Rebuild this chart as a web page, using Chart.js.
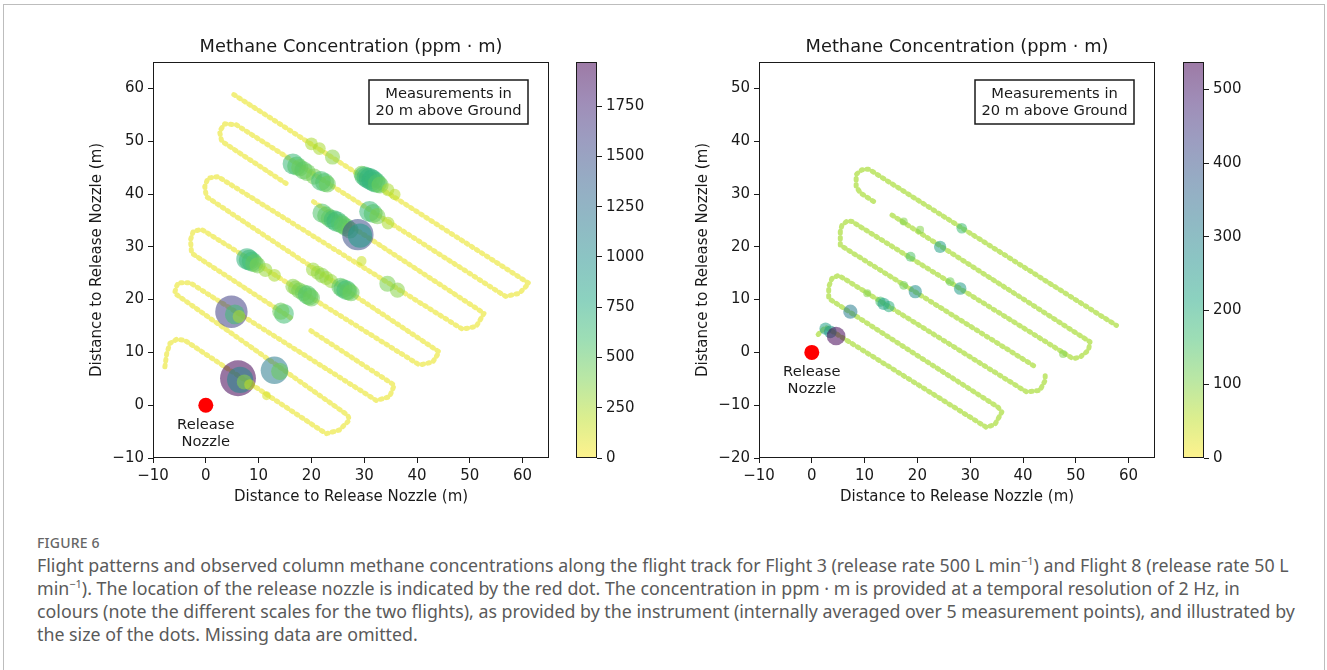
<!DOCTYPE html>
<html>
<head>
<meta charset="utf-8">
<script src="https://cdn.jsdelivr.net/npm/chart.js@4.4.0/dist/chart.umd.min.js"></script>
<style>
  body { margin: 0; width: 1327px; height: 670px; background: #fff; position: relative; overflow: hidden; }
  .frame { position: absolute; left: 3px; top: 4px; width: 1320px; height: 720px; border: 1px solid #bdbdbd; }
  canvas { position: absolute; }
  .figno { position: absolute; left: 37px; top: 533px; font: 500 14px "Noto Sans", sans-serif; color: #666; letter-spacing: 0.2px; }
  .caption { position: absolute; left: 37px; top: 554px; font: 17.8px "Noto Sans", sans-serif; line-height: 23px; color: #5a5a5a; white-space: nowrap; }
  .caption sup { font-size: 11px; line-height: 0; }
</style>
</head>
<body>
<div class="frame"></div>
<canvas id="mapLeft" width="500" height="500" style="left:60px;top:20px"></canvas>
<canvas id="barLeft" width="80" height="420" style="left:574px;top:50px"></canvas>
<canvas id="mapRight" width="500" height="500" style="left:666px;top:20px"></canvas>
<canvas id="barRight" width="80" height="420" style="left:1181px;top:50px"></canvas>
<div class="figno">FIGURE 6</div>
<div class="caption">
Flight patterns and observed column methane concentrations along the flight track for Flight 3 (release rate 500 L min<sup>−1</sup>) and Flight 8 (release rate 50 L<br>
min<sup>−1</sup>). The location of the release nozzle is indicated by the red dot. The concentration in ppm · m is provided at a temporal resolution of 2 Hz, in<br>
colours (note the different scales for the two flights), as provided by the instrument (internally averaged over 5 measurement points), and illustrated by<br>
the size of the dots. Missing data are omitted.
</div>
<script>
// ---- Flight 3 (left) ----
// flight track (null = gap in the data)
const track3X = [-7.75, -7.4, -6.8, -5.5, -4.0, 22.8, 25.3, 27.2, 26.9, -5.9, -5.6, -5.2, -3.0, 32.3, 34.8, 35.7, 19.3, null, 16.0, -2.7, -2.9, -2.4, -0.8, 40.5, 43.0, 44.2, 0.1, -0.2, 0.4, 2.3, 48.6, 51.2, 52.7, 20.0, null, 15.2, 3.0, 2.6, 3.6, 5.8, 56.8, 59.4, 61.2, 4.9];
const track3Y = [7.27, 9.8, 11.7, 12.5, 12.3, -5.4, -4.7, -2.8, -1.9, 21.2, 22.4, 23.2, 23.2, 0.9, 1.6, 3.8, 14.5, null, 16.6, 28.8, 31.3, 32.9, 33.3, 7.6, 8.2, 10.1, 39.5, 41.4, 43.0, 43.3, 14.4, 14.9, 17.4, 38.8, null, 42.0, 50.0, 51.9, 53.3, 53.1, 20.6, 21.2, 23.1, 59.1];
// elevated concentrations along the track (ppm·m)
const conc3X = [6.1, 6.5, 7.3, 8.3, 11.5, 13.0, 14.0, 4.85, 5.5, 6.3, 14.8, 14.2,
    7.8, 8.2, 8.7, 9.2, 9.8, 11.3, 13.0, 16.5, 17.0, 17.7, 18.5, 19.2, 19.6, 20.0,
    20.3, 21.2, 22.0, 22.8, 23.7, 25.5, 26.0, 26.6, 27.0, 27.5, 34.4, 36.3, 29.5,
    22.0, 22.8, 23.5, 24.2, 24.8, 25.5, 26.0, 26.6, 27.3, 28.8, 29.2,
    16.5, 17.2, 17.8, 18.5, 19.2, 20.5, 21.8, 22.5, 23.0, 31.0, 31.7, 32.5, 34.5,
    20.0, 21.5, 24.0, 29.5, 30.0, 30.5, 31.0, 31.5, 32.0, 32.5, 33.0, 34.5, 35.8];
const conc3Y = [5.1, 4.8, 4.4, 3.9, 1.8, 6.6, 6.4, 17.7, 17.2, 16.8, 17.3, 17.8,
    27.7, 27.5, 27.2, 26.9, 26.5, 25.6, 24.6, 22.5, 22.2, 21.7, 21.3, 20.9, 20.6, 20.3,
    25.7, 25.1, 24.6, 24.1, 23.5, 22.4, 22.1, 21.8, 21.6, 21.3, 23.0, 21.8, 27.3,
    36.4, 35.9, 35.4, 35.1, 34.8, 34.4, 34.1, 33.7, 33.2, 32.3, 32.1,
    45.7, 45.3, 45.0, 44.5, 44.1, 43.3, 42.5, 42.2, 41.9, 36.7, 36.3, 35.8, 34.5,
    49.5, 48.6, 47.0, 43.8, 43.4, 43.1, 42.9, 42.6, 42.3, 42.0, 41.7, 40.8, 39.9];
const conc3V = [1960, 1050, 350, 180, 120, 1150, 450, 1600, 600, 250, 600, 450,
    700, 650, 600, 500, 400, 300, 250, 350, 350, 400, 450, 550, 500, 450,
    300, 300, 350, 300, 300, 500, 550, 600, 500, 450, 400, 350, 150,
    550, 500, 500, 600, 650, 550, 500, 500, 450, 1500, 900,
    650, 550, 450, 500, 450, 400, 600, 550, 450, 650, 550, 400, 250,
    250, 250, 350, 400, 600, 650, 700, 700, 650, 550, 450, 250, 200];
const cbar3Max = 1970;
const cbar3Ticks = [0, 250, 500, 750, 1000, 1250, 1500, 1750];

// ---- Flight 8 (right) ----
const track8X = [1.2, 2.6, 33.1, 34.7, 36.0, 35.3, 3.2, 3.2, 3.8, 5.1, 40.7, 43.2, 44.2, 44.2, null, 42.0, 5.4, 5.4, 5.7, 6.7, 7.6, 49.5, 50.8, 52.4, 52.7, 14.6, null, 11.7, 9.2, 8.4, 8.4, 9.5, 10.8, 57.7];
const track8Y = [3.4, 4.8, -14.2, -13.6, -11.3, -10.4, 10.2, 12.4, 14.0, 14.6, -7.5, -7.2, -5.3, -4.4, null, -2.5, 20.3, 22.9, 24.1, 24.9, 24.8, -1.2, -0.9, 0.4, 2.0, 26.4, null, 28.6, 30.2, 31.4, 33.7, 34.6, 34.7, 5.1];
const conc8X = [2.6, 3.5, 4.6, 7.3, 13.0, 13.6, 14.6, 19.6, 18.7, 24.3, 28.1, 28.4, 17.4, 20.5, 47.6, 10.5, 17.4, 26.2];
const conc8Y = [4.5, 3.9, 3.1, 7.7, 9.6, 9.2, 8.7, 11.5, 18.1, 20.0, 12.1, 23.5, 24.8, 23.2, -0.3, 11.2, 12.7, 13.4];
const conc8V = [230, 250, 530, 310, 160, 230, 200, 270, 150, 230, 240, 170, 100, 100, 100, 100, 120, 120];
const cbar8Max = 537;
const cbar8Ticks = [0, 100, 200, 300, 400, 500];

const distTicks = [-10, 0, 10, 20, 30, 40, 50, 60];
const dist8YTicks = [-20, -10, 0, 10, 20, 30, 40, 50];

const TITLE = 'Methane Concentration (ppm · m)';
const AXIS_LABEL = 'Distance to Release Nozzle (m)';
const NOTE = ['Measurements in', '20 m above Ground'];
const NOZZLE = ['Release', 'Nozzle'];
const FONT = 'DejaVu Sans';
const INK = '#1a1a1a';
const TXT = 15;

// viridis, reversed so that low = yellow
const VIRIDIS = ['#440154', '#482576', '#414487', '#35608d', '#2a788e', '#21908c', '#22a884', '#43bf71', '#7ad151', '#bbdf27', '#fde725'];
function hexRgb(h) {
    return [parseInt(h.slice(1, 3), 16), parseInt(h.slice(3, 5), 16), parseInt(h.slice(5, 7), 16)];
}
function viridisR(t, alpha) {
    t = Math.min(1, Math.max(0, t));
    const p = (1 - t) * 10;
    const i = Math.min(9, Math.floor(p));
    const f = p - i;
    const a = hexRgb(VIRIDIS[i]), b = hexRgb(VIRIDIS[i + 1]);
    const c = a.map((v, k) => Math.round(v + (b[k] - v) * f));
    return `rgba(${c[0]},${c[1]},${c[2]},${alpha})`;
}

const fmt = (v) => String(v).replace('-', '\u2212');
const pts = (xs, ys, vs) => xs.map((x, i) => ({ x: x, y: ys[i], v: vs ? vs[i] : 0 }));

// frame, title, note box and nozzle label
const decor = {
    id: 'decor',
    afterDraw(chart) {
        const { ctx, chartArea: a, scales } = chart;
        ctx.save();
        ctx.strokeStyle = INK;
        ctx.lineWidth = 1;
        ctx.strokeRect(Math.round(a.left) + 0.5, Math.round(a.top) + 0.5, Math.round(a.right - a.left) - 1, Math.round(a.bottom - a.top) - 1);

        ctx.fillStyle = INK;
        ctx.textAlign = 'center';
        ctx.textBaseline = 'middle';
        ctx.font = `17.8px "${FONT}"`;
        ctx.fillText(TITLE, (a.left + a.right) / 2, a.top - 15);

        // note box in the upper right
        const bw = 159, bh = 44;
        const bx = a.right - 21 - bw, by = a.top + 18;
        ctx.fillStyle = '#fff';
        ctx.fillRect(bx, by, bw, bh);
        ctx.lineWidth = 1.5;
        ctx.strokeRect(bx, by, bw, bh);
        ctx.fillStyle = INK;
        ctx.font = `${TXT - 0.3}px "${FONT}"`;
        ctx.fillText(NOTE[0], bx + bw / 2, by + 14);
        ctx.fillText(NOTE[1], bx + bw / 2, by + 31);

        // nozzle label under the red dot
        const nx = scales.x.getPixelForValue(0), ny = scales.y.getPixelForValue(0);
        ctx.fillText(NOZZLE[0], nx, ny + 20);
        ctx.fillText(NOZZLE[1], nx, ny + 37);
        ctx.restore();
    }
};

function axisOpts(min, max, ticks, pos, fixed) {
    const horizontal = pos === 'bottom';
    return {
        type: 'linear',
        position: pos,
        min: min,
        max: max,
        afterBuildTicks: (s) => { s.ticks = ticks.map(v => ({ value: v })); },
        afterFit: (s) => {
            if (horizontal) s.height = fixed; else s.width = fixed;
            s.paddingLeft = s.paddingRight = s.paddingTop = s.paddingBottom = 0;
        },
        grid: { drawOnChartArea: false, drawTicks: true, tickLength: 5, color: INK, lineWidth: 1 },
        border: { display: false },
        ticks: {
            color: INK, padding: 4, maxRotation: 0, autoSkip: false,
            font: { family: FONT, size: TXT },
            callback: (v) => fmt(v)
        },
        title: {
            display: true, text: AXIS_LABEL, color: INK,
            font: { family: FONT, size: TXT, lineHeight: 1.2 },
            padding: horizontal ? { top: 0, bottom: 14 } : { top: 28, bottom: 0 }
        }
    };
}

function makeMap(id, cfg) {
    return new Chart(document.getElementById(id), {
        type: 'scatter',
        data: {
            datasets: [
                {   // release nozzle
                    data: [{ x: 0, y: 0 }],
                    pointRadius: 7.5,
                    backgroundColor: '#ff0000',
                    borderWidth: 0
                },
                {   // concentrations, colour and size by value
                    data: pts(cfg.cx, cfg.cy, cfg.cv),
                    pointRadius: (c) => 0.405 * Math.sqrt(c.raw.v),
                    backgroundColor: (c) => viridisR(c.raw.v / cfg.vmax, 0.55),
                    borderWidth: 0
                },
                {   // flight track with low readings, drawn as beads
                    data: pts(cfg.tx, cfg.ty),
                    showLine: true,
                    spanGaps: false,
                    pointRadius: 0,
                    borderColor: viridisR(cfg.trackV / cfg.vmax, cfg.trackAlpha),
                    borderWidth: 5,
                    borderDash: [1.5, 4.5],
                    borderJoinStyle: 'round',
                    borderCapStyle: 'round',
                    tension: 0
                }
            ]
        },
        options: {
            responsive: false,
            animation: false,
            events: [],
            layout: { autoPadding: false, padding: { left: 0, right: 11, top: 42, bottom: 0 } },
            plugins: { legend: { display: false }, tooltip: { enabled: false } },
            scales: {
                x: axisOpts(-10, 65, distTicks, 'bottom', 62),
                y: axisOpts(cfg.yMin, cfg.yMax, cfg.yTicks, 'left', 93)
            }
        },
        plugins: [decor]
    });
}

// colour bar frame
const barFrame = {
    id: 'barFrame',
    afterDraw(chart) {
        const { ctx, chartArea: a } = chart;
        ctx.save();
        ctx.strokeStyle = INK;
        ctx.lineWidth = 1;
        ctx.strokeRect(Math.round(a.left) + 0.5, Math.round(a.top) + 0.5, Math.round(a.right - a.left) - 1, Math.round(a.bottom - a.top) - 1);
        ctx.restore();
    }
};

function makeBar(id, vmax, ticks) {
    return new Chart(document.getElementById(id), {
        type: 'bar',
        data: {
            labels: [''],
            datasets: [{
                data: [vmax],
                barPercentage: 1,
                categoryPercentage: 1,
                borderWidth: 0,
                backgroundColor: (c) => {
                    const a = c.chart.chartArea;
                    if (!a) return 'transparent';
                    const g = c.chart.ctx.createLinearGradient(0, a.bottom, 0, a.top);
                    for (let i = 0; i <= 20; i++) g.addColorStop(i / 20, viridisR(i / 20, 0.52));
                    return g;
                }
            }]
        },
        options: {
            responsive: false,
            animation: false,
            events: [],
            layout: { autoPadding: false, padding: { left: 2, right: 0, top: 12, bottom: 12 } },
            plugins: { legend: { display: false }, tooltip: { enabled: false } },
            scales: {
                x: { display: false },
                y: {
                    position: 'right',
                    min: 0,
                    max: vmax,
                    afterBuildTicks: (s) => { s.ticks = ticks.map(v => ({ value: v })); },
                    afterFit: (s) => { s.width = 57; s.paddingTop = s.paddingBottom = 0; },
                    grid: { drawOnChartArea: false, drawTicks: true, tickLength: 5, color: INK },
                    border: { display: false },
                    ticks: { color: INK, padding: 4, font: { family: FONT, size: TXT }, callback: (v) => fmt(v) }
                }
            }
        },
        plugins: [barFrame]
    });
}

makeMap('mapLeft', {
    tx: track3X, ty: track3Y, cx: conc3X, cy: conc3Y, cv: conc3V,
    vmax: cbar3Max, trackV: 60, trackAlpha: 0.6, yMin: -10, yMax: 65, yTicks: distTicks
});
makeBar('barLeft', cbar3Max, cbar3Ticks);

makeMap('mapRight', {
    tx: track8X, ty: track8Y, cx: conc8X, cy: conc8Y, cv: conc8V,
    vmax: cbar8Max, trackV: 70, trackAlpha: 0.68, yMin: -20, yMax: 55, yTicks: dist8YTicks
});
makeBar('barRight', cbar8Max, cbar8Ticks);
</script>
</body>
</html>
